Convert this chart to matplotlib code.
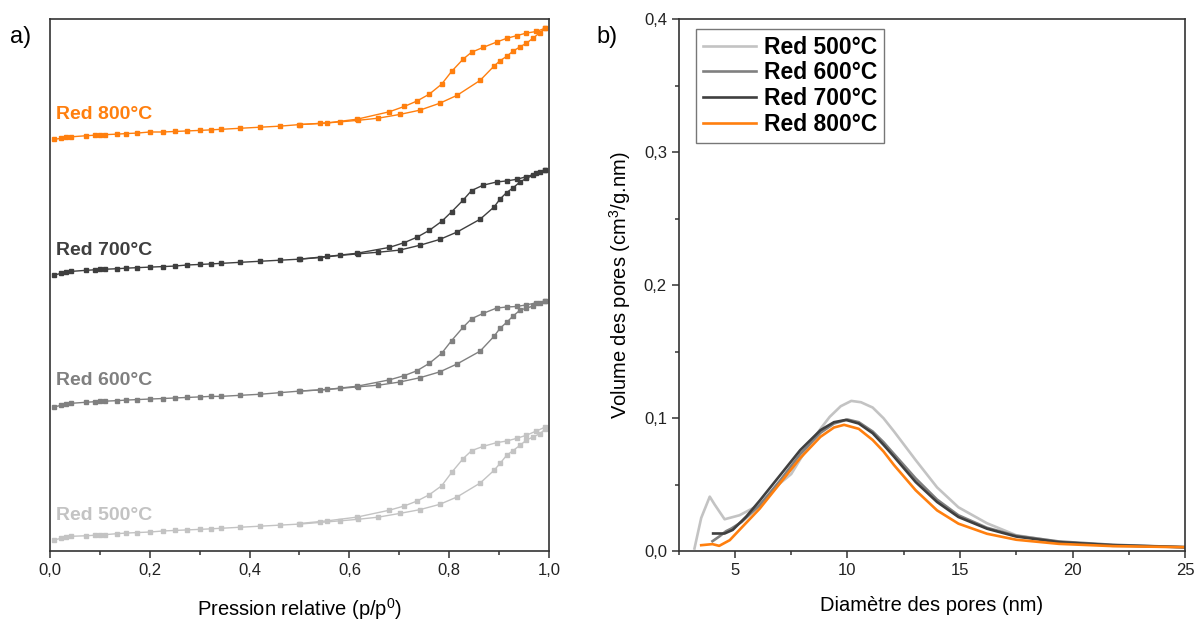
import matplotlib
matplotlib.use("Agg")
import matplotlib.pyplot as plt
import matplotlib.ticker as mticker

plt.rcParams["font.family"] = ["Liberation Sans", "DejaVu Sans"]

# ---------------------------------------------------------------------------
# a) isothermes (valeurs decalees, unites arbitraires)
# ---------------------------------------------------------------------------
p_ads = [0.008, 0.021, 0.032, 0.043, 0.073, 0.090, 0.100, 0.110, 0.135, 0.152,
         0.175, 0.200, 0.227, 0.250, 0.275, 0.300, 0.322, 0.342, 0.381, 0.421,
         0.461, 0.501, 0.541, 0.581, 0.618, 0.658, 0.701, 0.741, 0.781, 0.816,
         0.862, 0.890, 0.902, 0.915, 0.928, 0.942, 0.955, 0.969, 0.982, 0.992]
p_des = [0.992, 0.975, 0.955, 0.935, 0.915, 0.895, 0.868, 0.845, 0.828, 0.805,
         0.785, 0.760, 0.735, 0.710, 0.680, 0.615, 0.555, 0.500]

ads_500 = [2.1, 2.4, 2.6, 2.8, 2.9, 3.0, 3.0, 3.1, 3.3, 3.4,
           3.5, 3.6, 3.8, 3.9, 4.0, 4.1, 4.2, 4.3, 4.5, 4.7,
           4.9, 5.1, 5.4, 5.7, 6.0, 6.4, 7.1, 7.8, 8.8, 10.2,
           12.8, 15.2, 16.5, 18.0, 18.9, 19.9, 20.9, 21.5, 22.1, 22.9]
des_500 = [23.3, 22.6, 21.8, 21.2, 20.7, 20.4, 19.7, 18.9, 17.4, 14.8,
           12.3, 10.6, 9.4, 8.5, 7.7, 6.4, 5.7, 5.2]

ads_600 = [27.1, 27.4, 27.6, 27.8, 28.0, 28.1, 28.2, 28.2, 28.3, 28.4,
           28.5, 28.6, 28.7, 28.8, 28.9, 29.0, 29.1, 29.1, 29.3, 29.5,
           29.8, 30.1, 30.3, 30.6, 30.9, 31.2, 31.8, 32.6, 33.7, 35.2,
           37.6, 40.4, 41.9, 43.0, 44.2, 45.3, 45.7, 46.1, 46.6, 47.0]
des_600 = [47.0, 46.7, 46.3, 46.0, 45.9, 45.7, 44.7, 43.7, 42.1, 39.6,
           37.2, 35.3, 33.9, 33.0, 32.2, 31.0, 30.4, 30.1]

ads_700 = [51.9, 52.2, 52.4, 52.6, 52.8, 52.9, 53.0, 53.0, 53.1, 53.2,
           53.3, 53.4, 53.5, 53.6, 53.8, 53.9, 54.0, 54.1, 54.3, 54.5,
           54.7, 54.9, 55.2, 55.6, 55.9, 56.2, 56.6, 57.5, 58.6, 60.0,
           62.4, 64.7, 66.2, 67.4, 68.3, 69.4, 70.1, 70.7, 71.2, 71.6]
des_700 = [71.6, 71.0, 70.4, 69.9, 69.6, 69.4, 68.8, 67.8, 66.0, 63.8,
           62.0, 60.3, 59.0, 58.0, 57.1, 56.0, 55.4, 54.9]

ads_800 = [77.4, 77.6, 77.8, 77.9, 78.1, 78.2, 78.3, 78.3, 78.4, 78.5,
           78.6, 78.8, 78.8, 78.9, 79.0, 79.1, 79.2, 79.3, 79.5, 79.7,
           79.9, 80.2, 80.4, 80.7, 81.0, 81.4, 82.1, 82.9, 84.2, 85.7,
           88.5, 91.2, 92.2, 93.0, 94.0, 94.8, 95.5, 96.5, 97.5, 98.3]
des_800 = [98.3, 97.7, 97.4, 96.9, 96.4, 95.7, 94.7, 93.8, 92.5, 90.2,
           87.8, 85.9, 84.6, 83.6, 82.6, 81.2, 80.5, 80.2]

labels = ["Red 500°C", "Red 600°C", "Red 700°C", "Red 800°C"]
colors = ["#c3c3c3", "#808080", "#3f3f3f", "#ff7f0e"]
label_y = [6.8, 32.0, 56.6, 82.0]

# ---------------------------------------------------------------------------
# b) distribution BJH
# ---------------------------------------------------------------------------
d_500 = [3.2, 3.5, 3.88, 4.1, 4.54, 5.2, 6.1, 7.0, 7.5, 8.26, 8.8, 9.21, 9.7,
         10.17, 10.6, 11.12, 11.6, 12.07, 13.03, 13.98, 14.93, 16.2, 17.5,
         19.4, 21.8, 25.0]
v_500 = [0.002, 0.025, 0.041, 0.035, 0.024, 0.027, 0.035, 0.051, 0.058, 0.079,
         0.092, 0.101, 0.109, 0.113, 0.112, 0.108, 0.100, 0.090, 0.0685, 0.048,
         0.033, 0.021, 0.012, 0.007, 0.004, 0.003]

d_600 = [4.0, 4.3, 4.6, 4.84, 5.3, 6.1, 7.0, 7.9, 8.8, 9.4, 10.0, 10.5, 11.12,
         11.6, 12.07, 13.03, 13.98, 14.93, 16.2, 17.5, 19.4, 21.8, 25.0]
v_600 = [0.0075, 0.011, 0.015, 0.017, 0.022, 0.0346, 0.053, 0.073, 0.089, 0.096,
         0.099, 0.097, 0.090, 0.082, 0.073, 0.0547, 0.0388, 0.027, 0.0176,
         0.0116, 0.0073, 0.0048, 0.003]

d_700 = [4.03, 4.54, 4.9, 5.5, 6.1, 7.0, 7.9, 8.8, 9.4, 9.93, 10.5, 11.12,
         11.6, 12.07, 13.03, 13.98, 14.93, 16.2, 17.5, 19.4, 21.8, 25.0]
v_700 = [0.0133, 0.0133, 0.016, 0.026, 0.038, 0.057, 0.076, 0.091, 0.097,
         0.0987, 0.096, 0.0887, 0.080, 0.071, 0.052, 0.037, 0.0257, 0.0169,
         0.011, 0.0068, 0.0045, 0.003]

d_800 = [3.5, 4.0, 4.3, 4.77, 5.2, 6.1, 7.0, 7.9, 8.8, 9.4, 9.85, 10.5, 11.12,
         11.6, 12.07, 13.03, 13.98, 14.93, 16.2, 17.5, 19.4, 21.8, 25.0]
v_800 = [0.0045, 0.0053, 0.004, 0.0083, 0.016, 0.032, 0.051, 0.070, 0.086,
         0.093, 0.095, 0.092, 0.0836, 0.075, 0.0647, 0.0458, 0.0307, 0.0207,
         0.0131, 0.0086, 0.0055, 0.0038, 0.003]


def comma(v, _):
    s = f"{v:.1f}"
    return s.replace(".", ",")


fig = plt.figure(figsize=(11.97, 6.2), dpi=100)
ax1 = fig.add_axes([0.0418, 0.111, 0.4168, 0.858])
ax2 = fig.add_axes([0.567, 0.111, 0.423, 0.858])

spine_col = "#333333"
for ax in (ax1, ax2):
    for s in ax.spines.values():
        s.set_color(spine_col)
        s.set_linewidth(1.2)
    ax.tick_params(which="both", direction="out", colors=spine_col,
                   labelcolor="#222222", labelsize=12, width=1.1)
    ax.tick_params(which="major", length=5)
    ax.tick_params(which="minor", length=3)

# --- a) ---
ads = [ads_500, ads_600, ads_700, ads_800]
des = [des_500, des_600, des_700, des_800]
for a, d, col, lab, ly in zip(ads, des, colors, labels, label_y):
    ax1.plot(p_ads, a, color=col, lw=1.0, marker="s", ms=3.3, mec=col)
    ax1.plot(p_des, d, color=col, lw=1.0, marker="s", ms=3.3, mec=col)
    ax1.text(0.012, ly, lab, color=col, fontsize=14, fontweight="bold",
             ha="left", va="center")

ax1.set_xlim(0, 1)
ax1.set_ylim(0, 100)
ax1.set_yticks([])
ax1.xaxis.set_major_locator(mticker.MultipleLocator(0.2))
ax1.xaxis.set_minor_locator(mticker.MultipleLocator(0.1))
ax1.xaxis.set_major_formatter(mticker.FuncFormatter(comma))
ax1.set_xlabel("Pression relative (p/p$^{\\mathregular{0}}$)", fontsize=14.5,
               labelpad=13)

# --- b) ---
curves = [(d_500, v_500), (d_600, v_600), (d_700, v_700), (d_800, v_800)]
for (dx, vy), col, lab in zip(curves, colors, labels):
    ax2.plot(dx, vy, color=col, lw=1.9, label=lab)

ax2.set_xlim(2.5, 25)
ax2.set_ylim(0, 0.4)
ax2.xaxis.set_major_locator(mticker.MultipleLocator(5))
ax2.xaxis.set_minor_locator(mticker.MultipleLocator(2.5))
ax2.yaxis.set_major_locator(mticker.MultipleLocator(0.1))
ax2.yaxis.set_minor_locator(mticker.MultipleLocator(0.05))
ax2.yaxis.set_major_formatter(mticker.FuncFormatter(comma))
ax2.set_xlabel("Diamètre des pores (nm)", fontsize=14.5, labelpad=13)
ax2.set_ylabel("Volume des pores (cm$^{\\mathregular{3}}$/g.nm)", fontsize=14.5,
               labelpad=8)

leg = ax2.legend(loc="upper left", bbox_to_anchor=(0.035, 0.982),
                 borderaxespad=0, fancybox=False, edgecolor="#555555",
                 handlelength=2.3, handletextpad=0.35, labelspacing=0.12,
                 borderpad=0.3, prop={"weight": "bold", "size": 16.5})
leg.get_frame().set_linewidth(1.0)

fig.text(0.008, 0.94, "a)", fontsize=17, ha="left", va="center")
fig.text(0.498, 0.94, "b)", fontsize=17, ha="left", va="center")

fig.savefig("out.png", dpi=100, facecolor="white")
